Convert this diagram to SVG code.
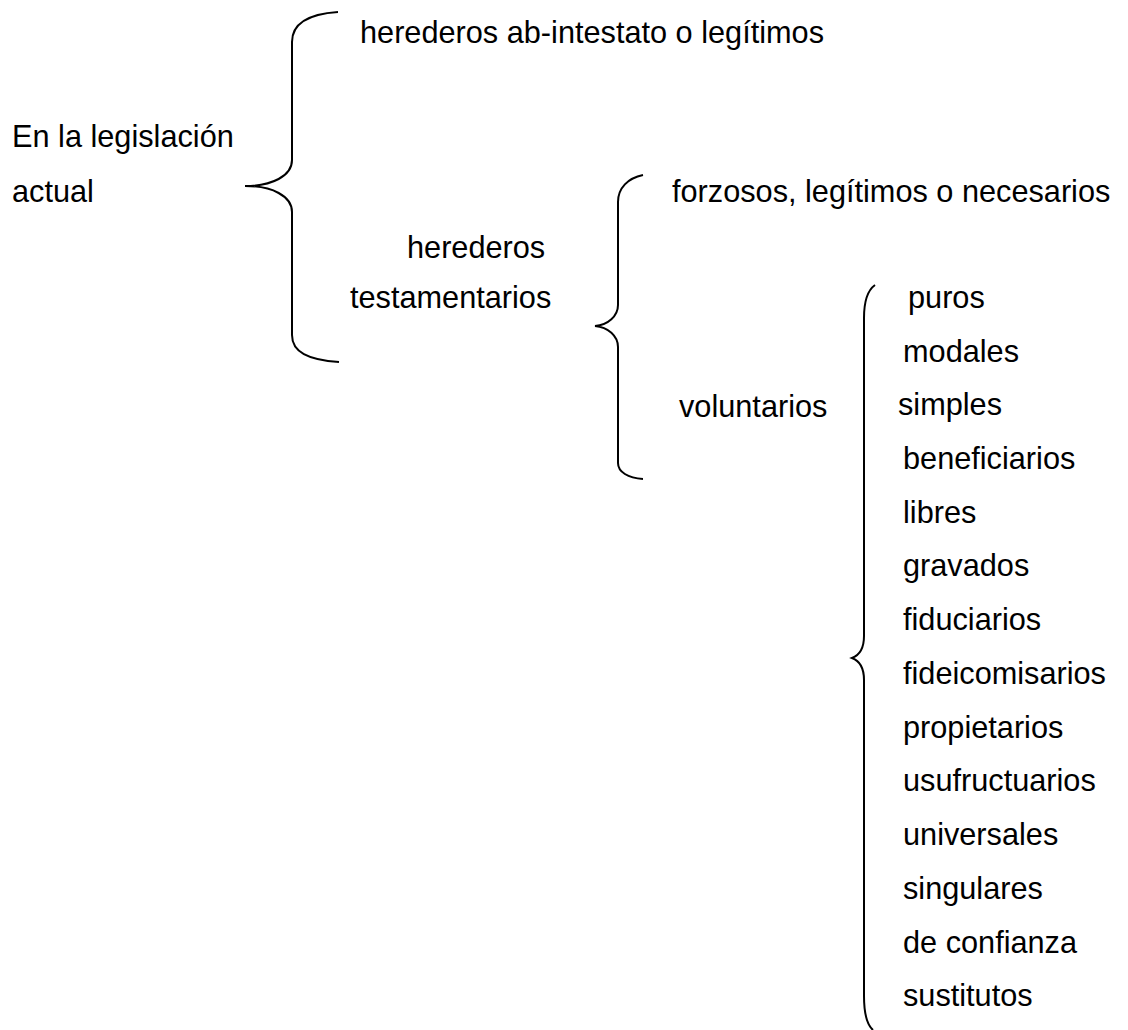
<svg xmlns="http://www.w3.org/2000/svg" width="1128" height="1030" viewBox="0 0 1128 1030">
<style>
text{font-family:"Liberation Sans",Arial,sans-serif;font-size:30.7px;fill:#000}
.br{fill:none;stroke:#000;stroke-width:2}
</style>
<rect width="1128" height="1030" fill="#fff"/>
<g id="connectors">
<path class="br" d="M338,12 C308,14 292,24 292,42 L292,160 C292,176 272,186 245,186 C272,186 292,196 292,212 L292,335 C292,352 308,360 339,362"/>
<path class="br" d="M643,175 C628,178 618,188 618,202 L618,305 C618,316 608,325 595,326 C608,327 618,336 618,347 L618,463 C618,472 628,478 643,479"/>
<path class="br" d="M875,285 C868,290 864,300 864,318 L864,636 C864,648 860,655 852,658 C860,661 864,668 864,680 L864,996 C864,1012 866,1024 873,1030"/>
</g>
<g id="root"><text x="12" y="147">En la legislación</text><text x="12" y="202">actual</text></g>
<g id="ab-intestato"><text x="360" y="43">herederos ab-intestato o legítimos</text></g>
<g id="testamentarios"><text x="407" y="258">herederos</text><text x="350" y="308">testamentarios</text></g>
<g id="forzosos"><text x="672" y="202">forzosos, legítimos o necesarios</text></g>
<g id="voluntarios"><text x="679" y="417">voluntarios</text></g>
<g id="tipos">
<text x="908" y="308">puros</text>
<text x="903" y="362">modales</text>
<text x="898" y="415">simples</text>
<text x="903" y="469">beneficiarios</text>
<text x="903" y="523">libres</text>
<text x="903" y="576">gravados</text>
<text x="903" y="630">fiduciarios</text>
<text x="903" y="684">fideicomisarios</text>
<text x="903" y="738">propietarios</text>
<text x="903" y="791">usufructuarios</text>
<text x="903" y="845">universales</text>
<text x="903" y="899">singulares</text>
<text x="903" y="953">de confianza</text>
<text x="903" y="1006">sustitutos</text>
</g>
</svg>
